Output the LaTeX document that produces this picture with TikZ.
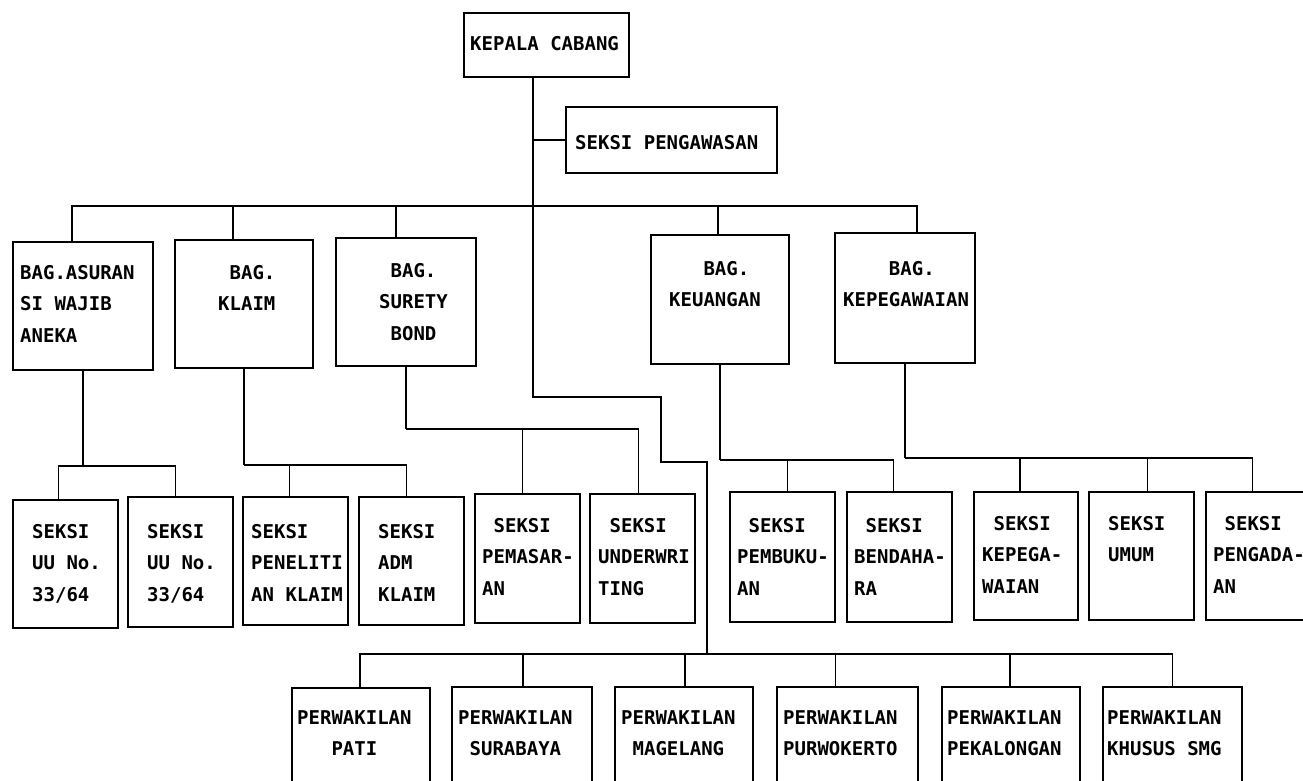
\documentclass[tikz,border=0pt]{standalone}
\usepackage{fontspec}
\newfontfamily\orgfont{DejaVu Sans Mono}
\usetikzlibrary{fit}

\begin{document}
\begin{tikzpicture}[
    x=1pt, y=-1pt,
    unit/.style={rectangle, draw, line width=1.8pt, inner sep=0pt},
    txt/.style={anchor=north west, inner sep=0pt, align=left, font=\orgfont\bfseries\fontsize{19}{31.5}\selectfont},
    link/.style={line width=1.8pt}
]
    \useasboundingbox (0,0) rectangle (1303,781);

    % top
    \node[unit, fit={(464,13) (629,77)}] (kepala) {};
    \node[unit, fit={(566,107) (777,173)}] (pengawasan) {};
    \node[txt] (kepala-t) at (470,36) {KEPALA CABANG};
    \node[txt] (pengawasan-t) at (575,135) {SEKSI PENGAWASAN};

    % bagian
    \node[unit, fit={(13,242) (153,370)}] (asuransi) {};
    \node[unit, fit={(175,240) (313,368)}] (klaim) {};
    \node[unit, fit={(336,238) (476,366)}] (surety) {};
    \node[unit, fit={(651,235) (789,364)}] (keuangan) {};
    \node[unit, fit={(835,233) (975,363)}] (kepeg) {};
    \node[txt] (asuransi-t) at (20,265) {BAG.ASURAN\\SI WAJIB\\ANEKA};
    \node[txt] (klaim-t) at (218,265) {~BAG.\\KLAIM};
    \node[txt] (surety-t) at (379,263) {~BAG.\\SURETY\\~BOND};
    \node[txt] (keuangan-t) at (669,261) {~~~BAG.\\KEUANGAN};
    \node[txt] (kepeg-t) at (843,261) {~~~~BAG.\\KEPEGAWAIAN};

    % seksi
    \node[unit, fit={(13,500) (118,628)}] (uu1) {};
    \node[unit, fit={(128,497) (233,627)}] (uu2) {};
    \node[unit, fit={(243,497) (348,625)}] (peneliti) {};
    \node[unit, fit={(359,497) (464,625)}] (adm) {};
    \node[unit, fit={(475,494) (580,623)}] (pemasaran) {};
    \node[unit, fit={(590,494) (695,623)}] (underwriting) {};
    \node[unit, fit={(730,492) (835,622)}] (pembukuan) {};
    \node[unit, fit={(847,492) (952,622)}] (bendahara) {};
    \node[unit, fit={(974,492) (1078,620)}] (kepegseksi) {};
    \node[unit, fit={(1089,492) (1194,620)}] (umum) {};
    \node[unit, fit={(1206,492) (1311,620)}] (pengadaan) {};
    \node[txt] (uu1-t) at (32,524) {SEKSI\\UU No.\\33/64};
    \node[txt] (uu2-t) at (147,524) {SEKSI\\UU No.\\33/64};
    \node[txt] (peneliti-t) at (251,524) {SEKSI\\PENELITI\\AN KLAIM};
    \node[txt] (adm-t) at (378,524) {SEKSI\\ADM\\KLAIM};
    \node[txt] (pemasaran-t) at (482,518) {~SEKSI\\PEMASAR-\\AN};
    \node[txt] (underwriting-t) at (598,518) {~SEKSI\\UNDERWRI\\TING};
    \node[txt] (pembukuan-t) at (737,518) {~SEKSI\\PEMBUKU-\\AN};
    \node[txt] (bendahara-t) at (854,518) {~SEKSI\\BENDAHA-\\RA};
    \node[txt] (kepegseksi-t) at (982,516) {~SEKSI\\KEPEGA-\\WAIAN};
    \node[txt] (umum-t) at (1108,516) {SEKSI\\UMUM};
    \node[txt] (pengadaan-t) at (1213,516) {~SEKSI\\PENGADA-\\AN};

    % perwakilan
    \node[unit, fit={(292,688) (430,800)}] (pati) {};
    \node[unit, fit={(452,687) (592,800)}] (surabaya) {};
    \node[unit, fit={(615,687) (753,800)}] (magelang) {};
    \node[unit, fit={(777,687) (918,800)}] (purwokerto) {};
    \node[unit, fit={(942,687) (1080,800)}] (pekalongan) {};
    \node[unit, fit={(1103,687) (1242,800)}] (khusus) {};
    \node[txt] (pati-t) at (297,710) {PERWAKILAN\\~~~PATI};
    \node[txt] (surabaya-t) at (458,710) {PERWAKILAN\\~SURABAYA};
    \node[txt] (magelang-t) at (621,710) {PERWAKILAN\\~MAGELANG};
    \node[txt] (purwokerto-t) at (783,710) {PERWAKILAN\\PURWOKERTO};
    \node[txt] (pekalongan-t) at (947,710) {PERWAKILAN\\PEKALONGAN};
    \node[txt] (khusus-t) at (1107,710) {PERWAKILAN\\KHUSUS SMG};

    % junctions
    \coordinate (bus1) at (533,206);
    \coordinate (bend1) at (661,397);
    \coordinate (bend2) at (707,462);
    \coordinate (bus3) at (707,654);
    \coordinate (asuransi-j) at (83,466);
    \coordinate (klaim-j) at (244,465);
    \coordinate (surety-j) at (406,429);
    \coordinate (keuangan-j) at (720,460);
    \coordinate (kepeg-j) at (905,458);

    % trunk
    \draw[link] (kepala.south -| bus1) |- (bend1) |- (bend2) -- (bus3);
    \draw[link] (pengawasan.west) -- (pengawasan.west -| bus1);

    \draw[link] (asuransi.north) ++(-11,0) |- (bus1);
    \draw[link] (klaim.north) ++(-11,0) |- (bus1);
    \draw[link] (surety.north) ++(-10,0) |- (bus1);
    \draw[link] (keuangan.north) ++(-2,0) |- (bus1);
    \draw[link] (kepeg.north) ++(12,0) |- (bus1);

    \draw[link] (asuransi.south) -- (asuransi-j);
    \draw[link] (uu1.north) ++(-7,0) |- (asuransi-j);
    \draw[link] (uu2.north) ++(-5,0) |- (asuransi-j);

    \draw[link] (klaim.south) -- (klaim-j);
    \draw[link] (peneliti.north) ++(-6,0) |- (klaim-j);
    \draw[link] (adm.north) ++(-5,0) |- (klaim-j);

    \draw[link] (surety.south) -- (surety-j);
    \draw[link] (pemasaran.north) ++(-5,0) |- (surety-j);
    \draw[link] (underwriting.north) ++(-4,0) |- (surety-j);

    \draw[link] (keuangan.south) -- (keuangan-j);
    \draw[link] (pembukuan.north) ++(5,0) |- (keuangan-j);
    \draw[link] (bendahara.north) ++(-6,0) |- (keuangan-j);

    \draw[link] (kepeg.south) -- (kepeg-j);
    \draw[link] (kepegseksi.north) ++(-6,0) |- (kepeg-j);
    \draw[link] (umum.north) ++(6,0) |- (kepeg-j);
    \draw[link] (pengadaan.north) ++(-6,0) |- (kepeg-j);

    \draw[link] (pati.north) ++(-1,0) |- (bus3);
    \draw[link] (surabaya.north) ++(1,0) |- (bus3);
    \draw[link] (magelang.north) ++(1,0) |- (bus3);
    \draw[link] (purwokerto.north) ++(-12,0) |- (bus3);
    \draw[link] (pekalongan.north) ++(-1,0) |- (bus3);
    \draw[link] (khusus.north) |- (bus3);
\end{tikzpicture}
\end{document}
